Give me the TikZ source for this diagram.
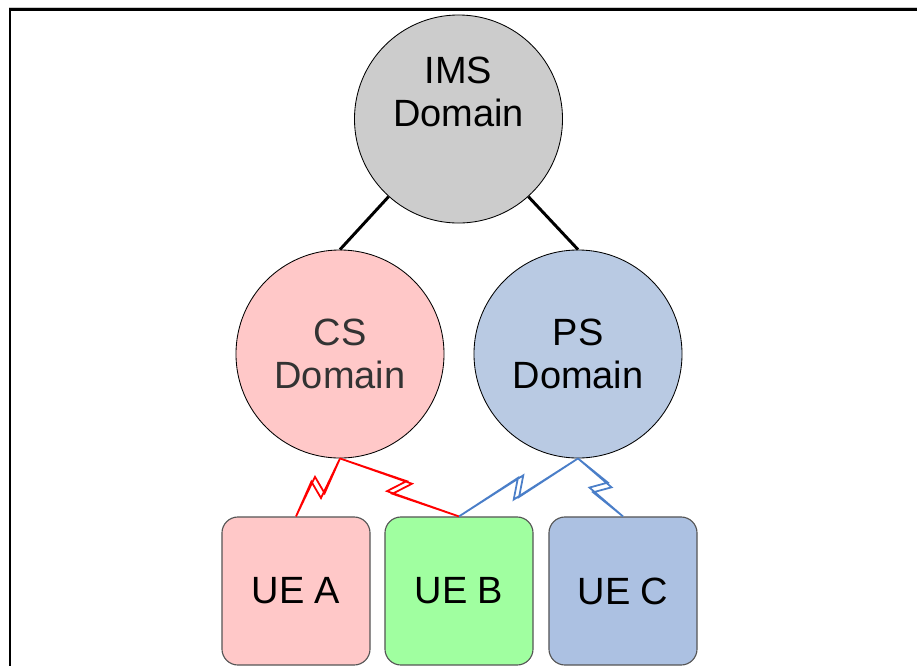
\documentclass[tikz,border=0pt]{standalone}
\usepackage{fontspec}
\setmainfont{Liberation Sans}
\usetikzlibrary{calc}
\definecolor{imsfill}{HTML}{CCCCCC}
\definecolor{csfill}{HTML}{FFC8C8}
\definecolor{psfill}{HTML}{B9CAE3}
\definecolor{uebfill}{HTML}{A0FFA0}
\definecolor{uecfill}{HTML}{ACC1E2}
\definecolor{uegray}{HTML}{555555}
\definecolor{radioblue}{HTML}{4A7EC8}
\newlength{\domainsize}
\setlength{\domainsize}{5.2cm}
\newlength{\uesize}
\setlength{\uesize}{3.7cm}
\tikzset{domcircle/.style = {shape=circle,draw,line width=0.6pt,minimum size=\domainsize,inner sep=0pt,align=center,font=\fontsize{27}{30}\selectfont}}
\tikzset{uebox/.style = {shape=rectangle,draw=uegray,line width=0.8pt,rounded corners=0.4cm,minimum size=\uesize,font=\fontsize{27}{30}\selectfont}}
\tikzset{edge/.style = {line width=2.1pt}}
\tikzset{radio/.style = {fill=white,line width=1.25pt,line join=miter,miter limit=25}}
% lightning-style radio link from #2 to #3
\newcommand{\radiolink}[3]{%
  \coordinate (kinka) at ($(#2)!0.55!(#3)!0.22cm!90:(#3)$);
  \coordinate (kinkb) at ($(#2)!0.45!(#3)!0.22cm!-90:(#3)$);
  \coordinate (step) at ($(#2)!0.075cm!(#3)$);
  \draw[radio,draw=#1] (#2) -- ($(kinka)+(step)-(#2)$) -- ($(kinkb)+(step)-(#2)$)
    -- (#3) -- ($(kinkb)-(step)+(#2)$) -- ($(kinka)-(step)+(#2)$) -- cycle;}

\begin{document}
\begin{tikzpicture}[x=0.025cm,y=-0.025cm]
        \useasboundingbox (0,0) rectangle (917,666);
        % frame
        \draw[imsfill,line width=0.7pt] (9,7.5) -- (917,7.5);
        \draw[line width=1.8pt] (10,666) -- (10,9.5) -- (917,9.5);

        \node[domcircle,fill=imsfill] (ims) at (458.5,119) {};
        \node[align=center,font=\fontsize{27}{30}\selectfont] (imstext) at (458.5,92) {IMS\\Domain};
        \node[domcircle,fill=csfill,text=black!80] (cs) at (340,354) {CS\\Domain};
        \draw[edge] (ims.228) -- (cs.north);
        \node[domcircle,fill=psfill] (ps) at (578,354) {PS\\Domain};
        \draw[edge] (ims.-48) -- (ps.north);

        \node[uebox,fill=csfill] (uea) at (296,591) {UE A};
        \node[uebox,fill=uebfill] (ueb) at (459,591) {UE B};
        \node[uebox,fill=uecfill] (uec) at (623,591) {UE C};

        \radiolink{red}{cs.south}{uea.north}
        \radiolink{red}{cs.south}{ueb.north}
        \radiolink{radioblue}{ps.south}{ueb.north}
        \radiolink{radioblue}{ps.south}{uec.north}
    \end{tikzpicture}
\end{document}
